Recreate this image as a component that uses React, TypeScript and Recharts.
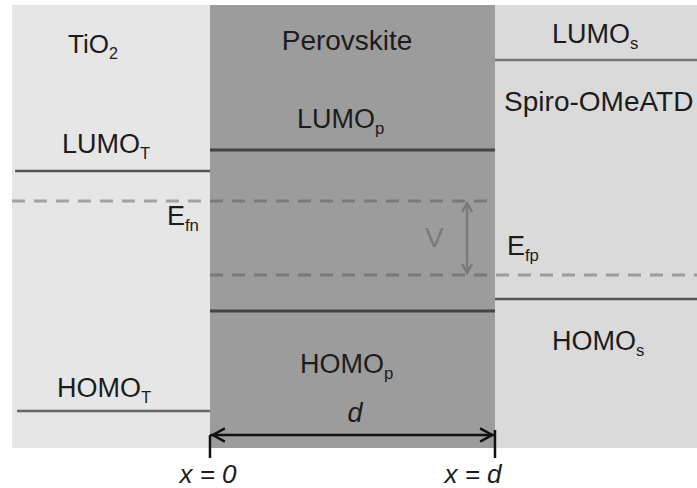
import React from "react";
import {
  ComposedChart,
  XAxis,
  YAxis,
  ReferenceArea,
  ReferenceLine,
  ReferenceDot,
} from "recharts";

// position across the device: x = 0 at TiO2/perovskite, x = d (=1) at perovskite/spiro
const layerNames = ["TiO2", "Perovskite", "Spiro-OMeATD"];
const layerStart = [-0.695, 0, 1];
const layerEnd = [0, 1, 1.72];
const layerFill = ["#e6e6e6", "#9c9c9c", "#dadada"];
const layerTop = -0.05;
const layerBottom = -4.48;

// energy levels (arbitrary units, downwards = lower energy)
const levelNames = ["LUMO_T", "LUMO_p", "LUMO_s", "HOMO_T", "HOMO_p", "HOMO_s"];
const levelEnergy = [-1.71, -1.5, -0.6, -4.11, -3.11, -2.99];
const levelFrom = [-0.684, 0, 1, -0.677, 0, 1];
const levelTo = [0, 1, 1.72, 0, 1, 1.72];
const levelColor = ["#555", "#444", "#777", "#666", "#444", "#555"];

// quasi-Fermi levels
const fermiNames = ["E_fn", "E_fp"];
const fermiEnergy = [-2.01, -2.75];
const fermiFrom = [-0.695, 0];
const fermiTo = [1, 1.72];

const thickness = 1;
const xDomain = [-0.7368, 1.7088];
const yDomain = [-4.88, 0];

const FONT = "'Liberation Sans', Arial, sans-serif";

function label(
  x: number,
  y: number,
  main: string,
  sub?: string,
  opts: { anchor?: string; size?: number; fill?: string; italic?: boolean } = {}
) {
  const size = opts.size ?? 27;
  return (
    <ReferenceDot
      key={main + (sub || "") + x}
      x={x}
      y={y}
      r={0}
      ifOverflow="visible"
      shape={(p: any) => (
        <text
          x={p.cx}
          y={p.cy}
          textAnchor={opts.anchor ?? "start"}
          fontFamily={FONT}
          fontSize={size}
          fontStyle={opts.italic ? "italic" : "normal"}
          fill={opts.fill ?? "#1c1c1c"}
        >
          {main}
          {sub ? (
            <tspan fontSize={size * 0.62} dy={size * 0.22}>
              {sub}
            </tspan>
          ) : null}
        </text>
      )}
    />
  );
}

function chevron(x: number, y: number, dir: "up" | "down" | "left" | "right", color: string, s: number) {
  return (
    <ReferenceDot
      key={"chev" + x + y + dir}
      x={x}
      y={y}
      r={0}
      ifOverflow="visible"
      shape={(p: any) => {
        const { cx, cy } = p;
        let d = "";
        if (dir === "up") d = `M${cx - s * 0.55} ${cy + s} L${cx} ${cy} L${cx + s * 0.55} ${cy + s}`;
        if (dir === "down") d = `M${cx - s * 0.55} ${cy - s} L${cx} ${cy} L${cx + s * 0.55} ${cy - s}`;
        if (dir === "left") d = `M${cx + s} ${cy - s * 0.55} L${cx} ${cy} L${cx + s} ${cy + s * 0.55}`;
        if (dir === "right") d = `M${cx - s} ${cy - s * 0.55} L${cx} ${cy} L${cx - s} ${cy + s * 0.55}`;
        return <path d={d} fill="none" stroke={color} strokeWidth={2.5} />;
      }}
    />
  );
}

export default function App() {
  const vx = 0.902;
  const arrowE = -4.35;
  return (
    <div style={{ position: "absolute", left: 0, top: 0, background: "#fff" }}>
      <ComposedChart width={697} height={488} margin={{ top: 0, right: 0, bottom: 0, left: 0 }}>
        <XAxis type="number" dataKey="x" domain={xDomain} hide allowDataOverflow />
        <YAxis type="number" domain={yDomain} hide allowDataOverflow />

        {layerNames.map((n, i) => (
          <ReferenceArea
            key={n}
            x1={layerStart[i]}
            x2={layerEnd[i]}
            y1={layerBottom}
            y2={layerTop}
            fill={layerFill[i]}
            fillOpacity={1}
            stroke="none"
            ifOverflow="hidden"
          />
        ))}

        {fermiNames.map((n, i) => (
          <ReferenceLine
            key={n}
            segment={[
              { x: fermiFrom[i], y: fermiEnergy[i] },
              { x: fermiTo[i], y: fermiEnergy[i] },
            ]}
            stroke="#505050"
            strokeOpacity={0.45}
            strokeWidth={3}
            strokeDasharray="13 9"
            ifOverflow="hidden"
          />
        ))}

        {levelNames.map((n, i) => (
          <ReferenceLine
            key={n}
            segment={[
              { x: levelFrom[i], y: levelEnergy[i] },
              { x: levelTo[i], y: levelEnergy[i] },
            ]}
            stroke={levelColor[i]}
            strokeWidth={i === 1 || i === 4 ? 3 : 2.5}
            ifOverflow="hidden"
          />
        ))}

        {/* photovoltage arrow between the quasi-Fermi levels */}
        <ReferenceLine
          segment={[
            { x: vx, y: fermiEnergy[0] - 0.03 },
            { x: vx, y: fermiEnergy[1] + 0.03 },
          ]}
          stroke="#7a7a7a"
          strokeWidth={2.5}
        />
        {chevron(vx, fermiEnergy[0] - 0.02, "up", "#7a7a7a", 9)}
        {chevron(vx, fermiEnergy[1] + 0.02, "down", "#7a7a7a", 9)}

        {/* thickness arrow */}
        <ReferenceLine
          segment={[
            { x: 0, y: arrowE },
            { x: thickness, y: arrowE },
          ]}
          stroke="#111"
          strokeWidth={2.5}
        />
        <ReferenceLine segment={[{ x: 0, y: arrowE }, { x: 0, y: -4.58 }]} stroke="#111" strokeWidth={2.5} />
        <ReferenceLine
          segment={[{ x: thickness, y: arrowE + 0.05 }, { x: thickness, y: -4.58 }]}
          stroke="#111"
          strokeWidth={2.5}
        />
        {chevron(0.01, arrowE, "left", "#111", 12)}
        {chevron(thickness - 0.01, arrowE, "right", "#111", 12)}

        {label(-0.498, -0.53, "TiO", "2", { size: 26 })}
        {label(0.481, -0.5, "Perovskite", undefined, { anchor: "middle", size: 28 })}
        {label(1.2, -0.43, "LUMO", "s")}
        {label(1.032, -1.11, "Spiro-OMeATD", undefined, { size: 28 })}
        {label(-0.519, -1.53, "LUMO", "T")}
        {label(0.305, -1.28, "LUMO", "p")}
        {label(-0.151, -2.25, "E", "fn")}
        {label(0.754, -2.47, "V", undefined, { fill: "#7a7a7a", size: 28 })}
        {label(1.042, -2.55, "E", "fp")}
        {label(1.2, -3.5, "HOMO", "s")}
        {label(0.316, -3.73, "HOMO", "p")}
        {label(-0.537, -3.97, "HOMO", "T")}
        {label(0.509, -4.22, "d", undefined, { anchor: "middle", italic: true, size: 27 })}
        {label(-0.007, -4.83, "x = 0", undefined, { anchor: "middle", italic: true, size: 26 })}
        {label(0.923, -4.83, "x = d", undefined, { anchor: "middle", italic: true, size: 26 })}
      </ComposedChart>
    </div>
  );
}
